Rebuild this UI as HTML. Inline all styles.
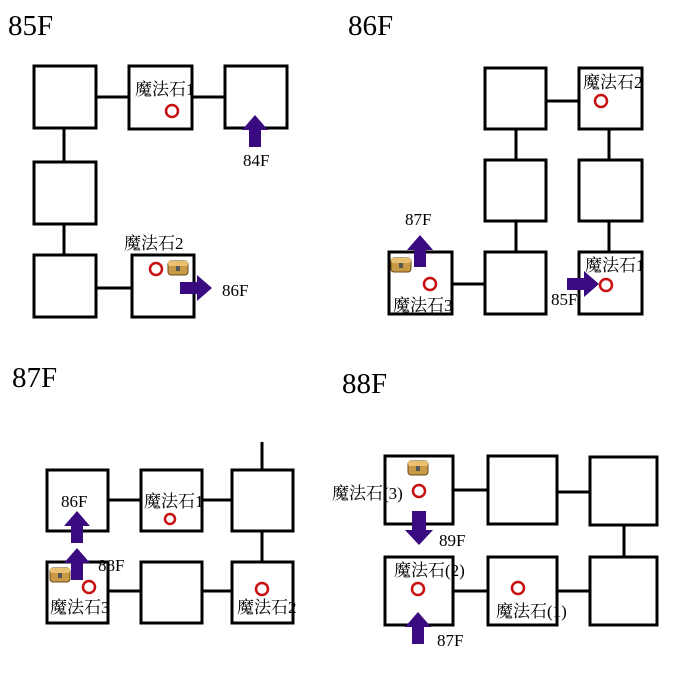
<!DOCTYPE html>
<html><head><meta charset="utf-8"><style>
html,body{margin:0;padding:0;background:#fff;width:700px;height:700px;overflow:hidden}
svg{display:block}
text{font-family:"Liberation Serif","Noto Serif CJK SC",serif;fill:#000}
.t{font-size:29px}
.l{font-size:17px}
.b{fill:#fff;stroke:#000;stroke-width:3}
.c{stroke:#000;stroke-width:3}
.o{fill:none;stroke:#c81010;stroke-width:2.5}
.a{fill:#3a0a80}
</style></head><body>
<svg width="700" height="700" viewBox="0 0 700 700">
<defs>
<g id="chest"><rect x="-10" y="-7" width="20" height="14" rx="3" fill="#c99a45" stroke="#6b4a1a" stroke-width="1"/><rect x="-10" y="-7" width="20" height="5" rx="2" fill="#e8c070"/><rect x="-2" y="-2" width="4" height="5" fill="#555"/></g>
<path id="up" d="M-13,15 L0,0 L13,15 L6,15 L6,32 L-6,32 L-6,15 Z"/>
<path id="dn" d="M-14,-15 L0,0 L14,-15 L7,-15 L7,-34 L-7,-34 L-7,-15 Z"/>
<path id="rt" d="M-15,-13 L0,0 L-15,13 L-15,6 L-32,6 L-32,-6 L-15,-6 Z"/>
</defs>

<!-- 85F -->
<text class="t" x="8" y="35">85F</text>
<line class="c" x1="96" y1="97" x2="130" y2="97"/>
<line class="c" x1="192" y1="97" x2="225" y2="97"/>
<line class="c" x1="64" y1="128" x2="64" y2="162"/>
<line class="c" x1="64" y1="224" x2="64" y2="255"/>
<line class="c" x1="96" y1="288" x2="132" y2="288"/>
<rect class="b" x="34" y="66" width="62" height="62"/>
<rect class="b" x="129" y="66" width="63" height="63"/>
<rect class="b" x="225" y="66" width="62" height="62"/>
<rect class="b" x="34" y="162" width="62" height="62"/>
<rect class="b" x="34" y="255" width="62" height="62"/>
<rect class="b" x="132" y="255" width="62" height="62"/>
<text class="l" x="135" y="95">魔法石1</text>
<circle class="o" cx="172" cy="111" r="6"/>
<use href="#up" class="a" x="255" y="115"/>
<text class="l" x="243" y="166">84F</text>
<text class="l" x="124" y="249">魔法石2</text>
<circle class="o" cx="156" cy="269" r="6"/>
<use href="#chest" x="178" y="268"/>
<use href="#rt" class="a" x="212" y="288"/>
<text class="l" x="222" y="296">86F</text>

<!-- 86F -->
<text class="t" x="348" y="35">86F</text>
<line class="c" x1="546" y1="101" x2="579" y2="101"/>
<line class="c" x1="516" y1="129" x2="516" y2="160"/>
<line class="c" x1="516" y1="221" x2="516" y2="252"/>
<line class="c" x1="609" y1="129" x2="609" y2="160"/>
<line class="c" x1="609" y1="221" x2="609" y2="252"/>
<line class="c" x1="452" y1="284" x2="484" y2="284"/>
<rect class="b" x="485" y="68" width="61" height="61"/>
<rect class="b" x="579" y="68" width="63" height="61"/>
<rect class="b" x="485" y="160" width="61" height="61"/>
<rect class="b" x="579" y="160" width="63" height="61"/>
<rect class="b" x="485" y="252" width="61" height="62"/>
<rect class="b" x="579" y="252" width="63" height="62"/>
<rect class="b" x="389" y="252" width="63" height="62"/>
<text class="l" x="583" y="88">魔法石2</text>
<circle class="o" cx="601" cy="101" r="6"/>
<use href="#chest" x="401" y="265"/>
<use href="#up" class="a" x="420" y="235"/>
<text class="l" x="405" y="225">87F</text>
<circle class="o" cx="430" cy="284" r="6"/>
<text class="l" x="393" y="311">魔法石3</text>
<text class="l" x="585" y="271">魔法石1</text>
<circle class="o" cx="606" cy="285" r="6"/>
<use href="#rt" class="a" x="599" y="284"/>
<text class="l" x="551" y="305">85F</text>

<!-- 87F -->
<text class="t" x="12" y="387">87F</text>
<line class="c" x1="262" y1="442" x2="262" y2="470"/>
<line class="c" x1="108" y1="500" x2="141" y2="500"/>
<line class="c" x1="202" y1="500" x2="232" y2="500"/>
<line class="c" x1="262" y1="531" x2="262" y2="562"/>
<line class="c" x1="108" y1="591" x2="141" y2="591"/>
<line class="c" x1="202" y1="591" x2="232" y2="591"/>
<rect class="b" x="47" y="470" width="61" height="61"/>
<rect class="b" x="141" y="470" width="61" height="61"/>
<rect class="b" x="232" y="470" width="61" height="61"/>
<rect class="b" x="47" y="562" width="61" height="61"/>
<rect class="b" x="141" y="562" width="61" height="61"/>
<rect class="b" x="232" y="562" width="61" height="61"/>
<text class="l" x="61" y="507">86F</text>
<use href="#up" class="a" x="77" y="511"/>
<use href="#up" class="a" x="77" y="548"/>
<text class="l" x="98" y="571">88F</text>
<use href="#chest" x="60" y="575"/>
<circle class="o" cx="89" cy="587" r="6"/>
<text class="l" x="50" y="613">魔法石3</text>
<text class="l" x="144" y="507">魔法石1</text>
<circle class="o" cx="170" cy="519" r="5"/>
<circle class="o" cx="262" cy="589" r="6"/>
<text class="l" x="237" y="613">魔法石2</text>

<!-- 88F -->
<text class="t" x="342" y="393">88F</text>
<line class="c" x1="453" y1="490" x2="488" y2="490"/>
<line class="c" x1="557" y1="492" x2="590" y2="492"/>
<line class="c" x1="624" y1="525" x2="624" y2="557"/>
<line class="c" x1="453" y1="591" x2="488" y2="591"/>
<line class="c" x1="557" y1="591" x2="590" y2="591"/>
<rect class="b" x="385" y="456" width="68" height="68"/>
<rect class="b" x="488" y="456" width="69" height="68"/>
<rect class="b" x="590" y="457" width="67" height="68"/>
<rect class="b" x="385" y="557" width="68" height="68"/>
<rect class="b" x="488" y="557" width="69" height="68"/>
<rect class="b" x="590" y="557" width="67" height="68"/>
<use href="#chest" x="418" y="468"/>
<text class="l" x="332" y="499">魔法石(3)</text>
<circle class="o" cx="419" cy="491" r="6"/>
<use href="#dn" class="a" x="419" y="545"/>
<text class="l" x="439" y="546">89F</text>
<text class="l" x="394" y="576">魔法石(2)</text>
<circle class="o" cx="418" cy="589" r="6"/>
<use href="#up" class="a" x="418" y="612"/>
<text class="l" x="437" y="646">87F</text>
<circle class="o" cx="518" cy="588" r="6"/>
<text class="l" x="496" y="617">魔法石(1)</text>
</svg>
</body></html>
